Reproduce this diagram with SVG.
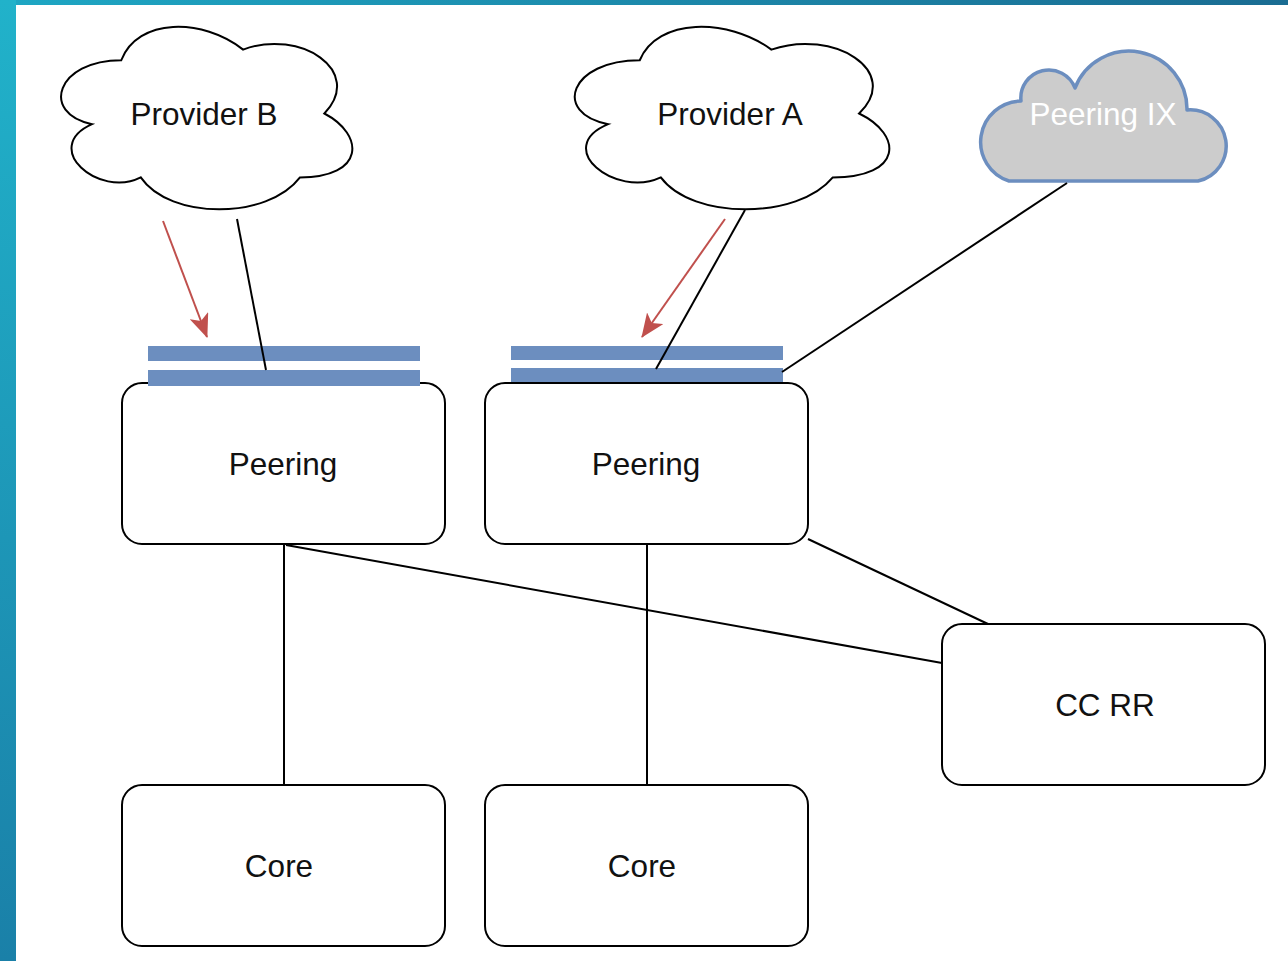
<svg xmlns="http://www.w3.org/2000/svg" width="1288" height="961" viewBox="0 0 1288 961">
<defs>
<linearGradient id="sideG" x1="0" y1="0" x2="0" y2="1">
<stop offset="0" stop-color="#21b2ca"/>
<stop offset="1" stop-color="#1a80a8"/>
</linearGradient>
<linearGradient id="topG" x1="0" y1="0" x2="1" y2="0">
<stop offset="0" stop-color="#1ea6c3"/>
<stop offset="1" stop-color="#1a6c92"/>
</linearGradient>
<marker id="redArrow" viewBox="0 0 24 20" refX="23" refY="10" markerWidth="24" markerHeight="20" markerUnits="userSpaceOnUse" orient="auto">
<path d="M0,0 L24,10 L0,20 L6,10 Z" fill="#c0504d"/>
</marker>
<style>
.box{fill:#ffffff;stroke:#000000;stroke-width:2}
.cloud{fill:#ffffff;stroke:#000000;stroke-width:2}
.bar{fill:#6c8ebf}
.lbl{font-family:"Liberation Sans",Arial,sans-serif;font-size:31.5px;fill:#111111;text-anchor:middle}
.wl{fill:#ffffff}
.edge{stroke:#000000;stroke-width:2;fill:none}
.red{stroke:#c0504d;stroke-width:2;fill:none;marker-end:url(#redArrow)}
</style>
</defs>
<rect x="0" y="0" width="1288" height="961" fill="#ffffff"/>
<rect x="0" y="0" width="16" height="961" fill="url(#sideG)"/>
<rect x="16" y="0" width="1272" height="5" fill="url(#topG)"/>

<g id="provider-b">
<path class="cloud" transform="translate(40,7) scale(325,213)" vector-effect="non-scaling-stroke" d="M0.25,0.25 C0.05,0.25 0,0.5 0.16,0.55 C0,0.66 0.18,0.9 0.31,0.8 C0.4,1 0.7,1 0.8,0.8 C1,0.8 1,0.6 0.875,0.5 C1,0.3 0.8,0.1 0.625,0.2 C0.5,0.05 0.3,0.05 0.25,0.25 Z"/>
<text class="lbl" x="204" y="125">Provider B</text>
</g>
<g id="provider-a">
<path class="cloud" transform="translate(552,7) scale(351,213)" vector-effect="non-scaling-stroke" d="M0.25,0.25 C0.05,0.25 0,0.5 0.16,0.55 C0,0.66 0.18,0.9 0.31,0.8 C0.4,1 0.7,1 0.8,0.8 C1,0.8 1,0.6 0.875,0.5 C1,0.3 0.8,0.1 0.625,0.2 C0.5,0.05 0.3,0.05 0.25,0.25 Z"/>
<text class="lbl" x="730" y="125">Provider A</text>
</g>
<g id="peering-ix">
<path d="M1009,181 A41,41 0 0 1 1021,101 A28,28 0 0 1 1075,88 A58,58 0 0 1 1187,110 A36,36 0 0 1 1198,181 Z" fill="#cccccc" stroke="#6c8ebf" stroke-width="3.5" stroke-linejoin="round"/>
<text class="lbl wl" x="1103" y="125">Peering IX</text>
</g>

<g id="peering-1">
<rect class="box" x="122" y="383" width="323" height="161" rx="20" ry="20"/>
<rect class="bar" x="148" y="346" width="272" height="15"/>
<rect class="bar" x="148" y="370" width="272" height="16"/>
<text class="lbl" x="283" y="475">Peering</text>
</g>
<g id="peering-2">
<rect class="box" x="485" y="383" width="323" height="161" rx="20" ry="20"/>
<rect class="bar" x="511" y="346" width="272" height="14"/>
<rect class="bar" x="511" y="368" width="272" height="14"/>
<text class="lbl" x="646" y="475">Peering</text>
</g>
<g id="cc-rr">
<rect class="box" x="942" y="624" width="323" height="161" rx="20" ry="20"/>
<text class="lbl" x="1105" y="716">CC RR</text>
</g>
<g id="core-1">
<rect class="box" x="122" y="785" width="323" height="161" rx="20" ry="20"/>
<text class="lbl" x="279" y="877">Core</text>
</g>
<g id="core-2">
<rect class="box" x="485" y="785" width="323" height="161" rx="20" ry="20"/>
<text class="lbl" x="642" y="877">Core</text>
</g>

<g id="connectors">
<line class="edge" x1="237" y1="219" x2="266" y2="370"/>
<line class="edge" x1="745" y1="210" x2="656" y2="369"/>
<line class="edge" x1="1067" y1="183" x2="782" y2="372"/>
<line class="edge" x1="284" y1="545" x2="284" y2="785"/>
<line class="edge" x1="647" y1="545" x2="647" y2="785"/>
<line class="edge" x1="286" y1="545" x2="942" y2="663"/>
<line class="edge" x1="808" y1="539" x2="988" y2="624"/>
<line class="red" x1="163" y1="221" x2="207" y2="337"/>
<line class="red" x1="725" y1="219" x2="642" y2="337"/>
</g>
</svg>
